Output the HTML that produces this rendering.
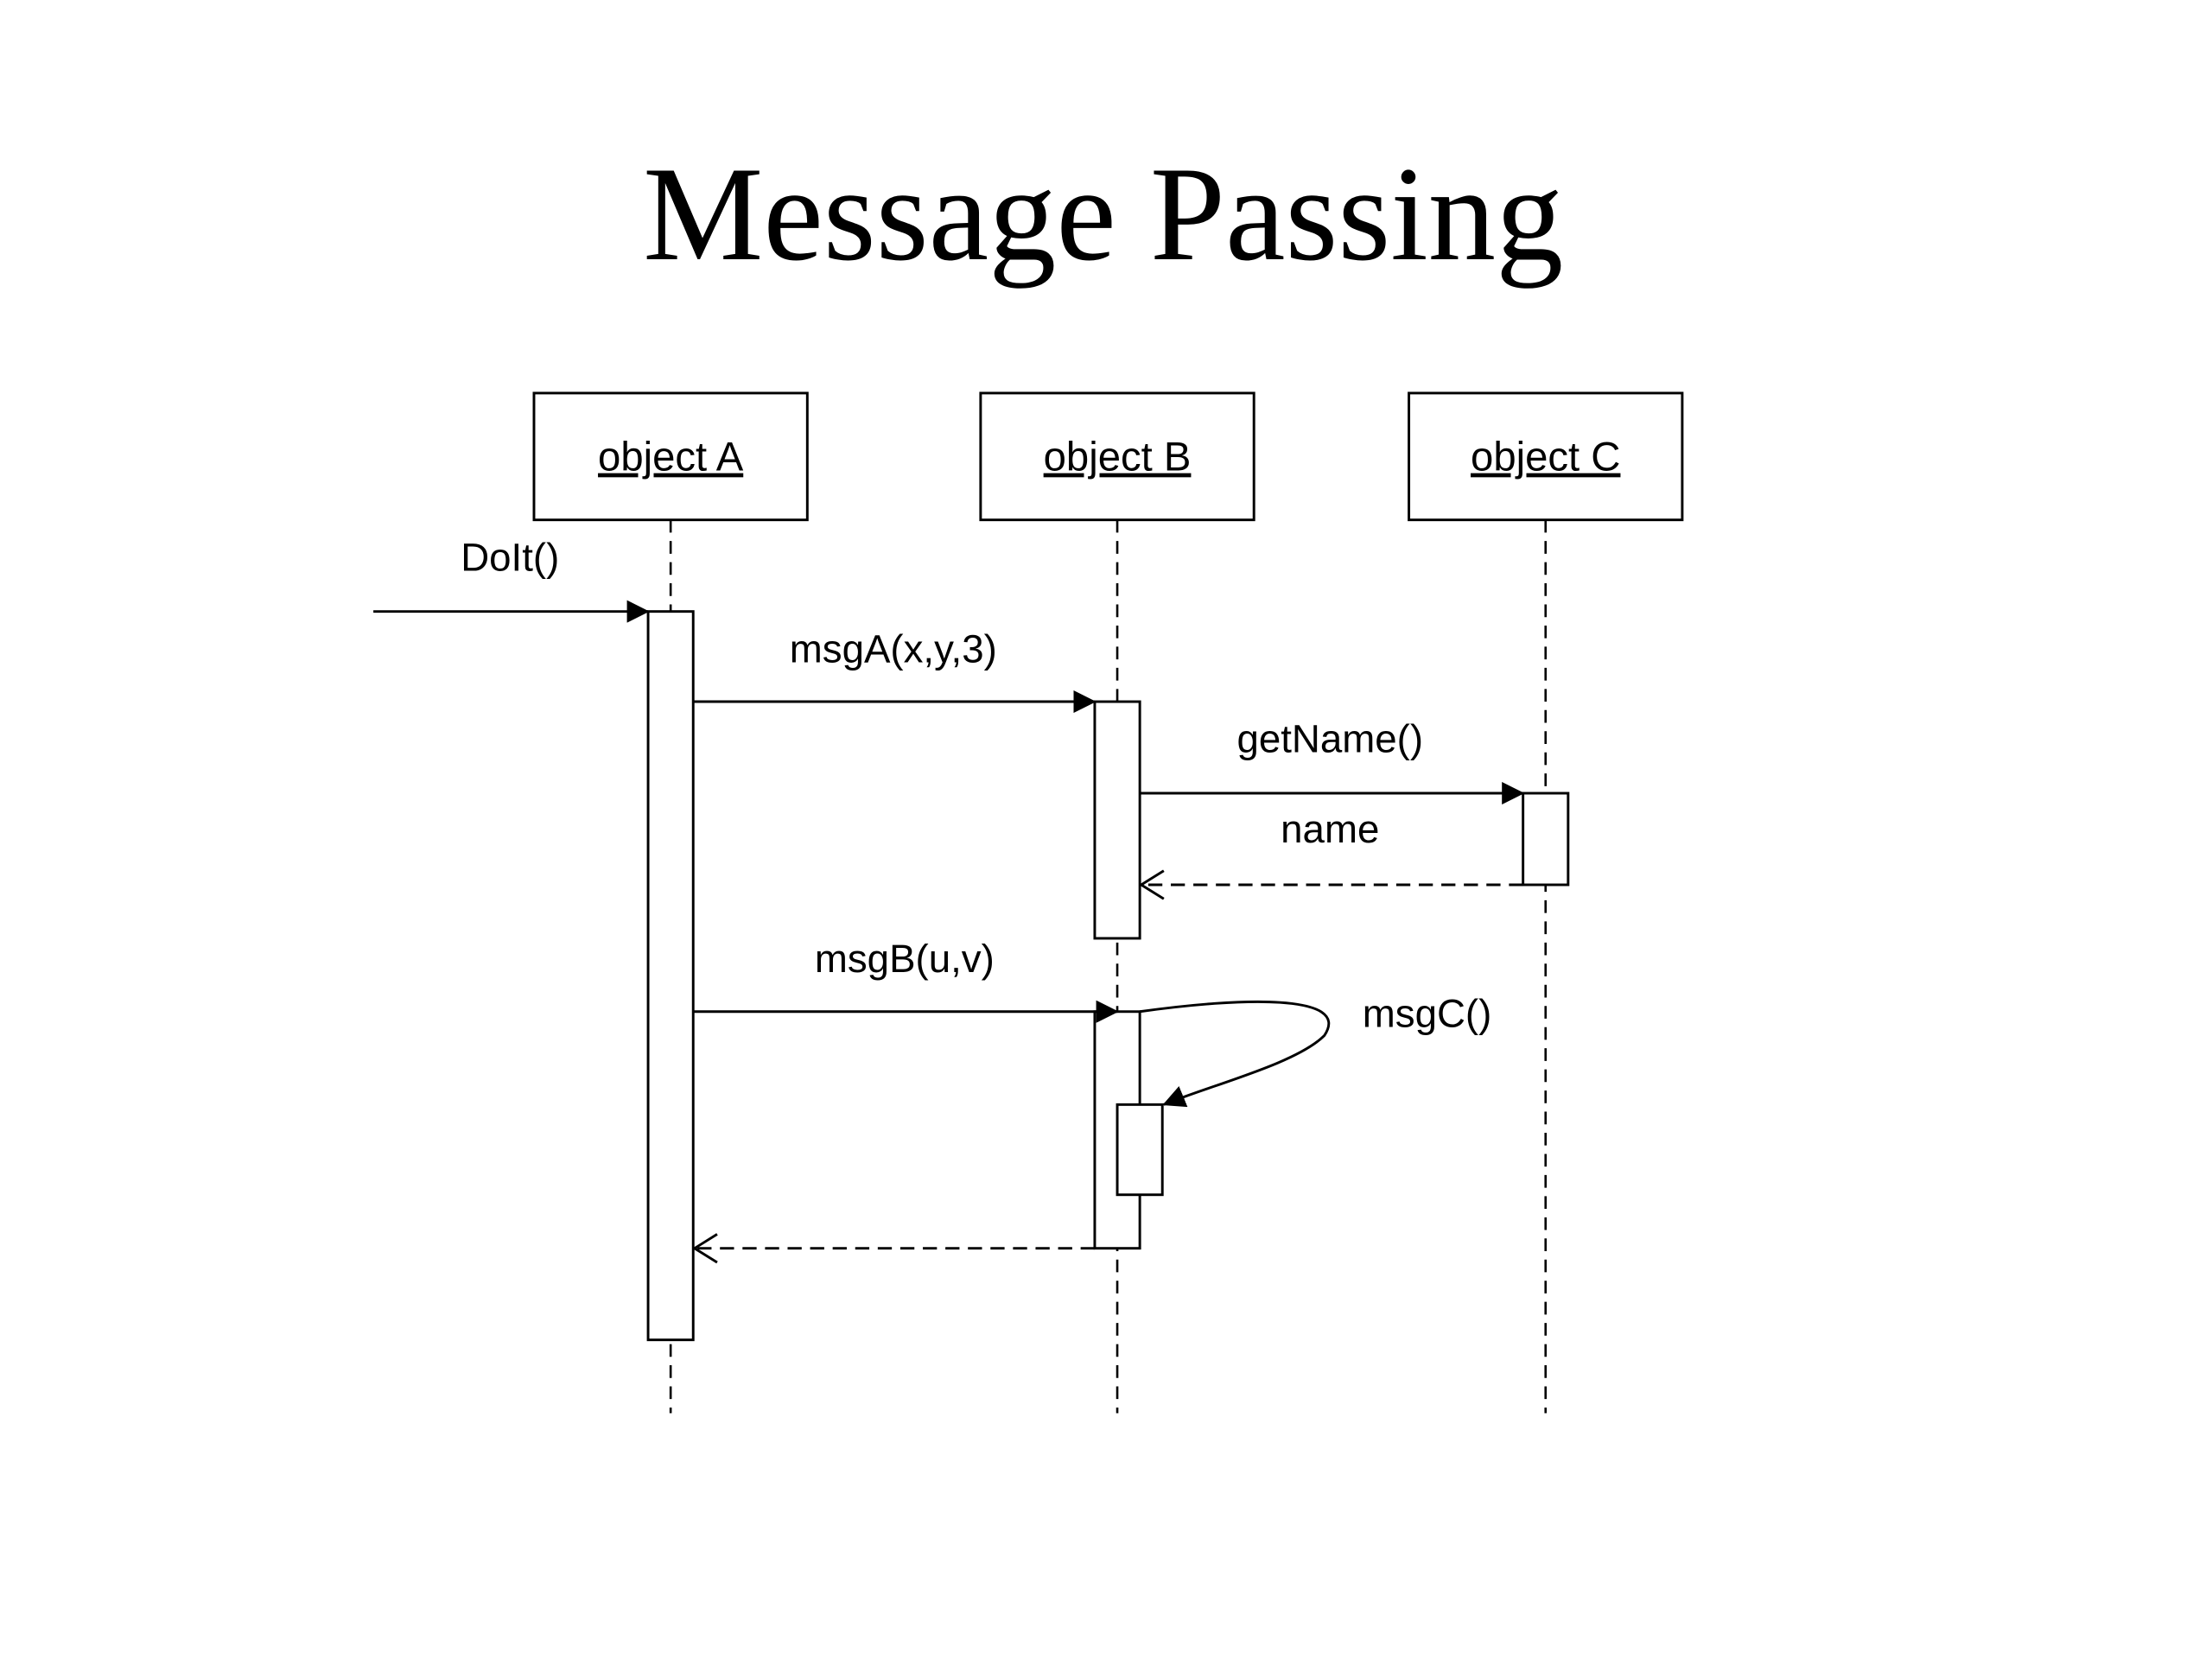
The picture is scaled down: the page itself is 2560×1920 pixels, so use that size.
<!DOCTYPE html>
<html><head><style>html,body{margin:0;padding:0;background:#fff}svg{display:block}</style></head><body>
<svg width="2560" height="1920" viewBox="0 0 1570 1177.5" xmlns="http://www.w3.org/2000/svg">
<defs>
<marker id="f" markerWidth="16" markerHeight="16" refX="15" refY="8" orient="auto" markerUnits="userSpaceOnUse"><path d="M0,0 L16,8 L0,16 Z" fill="#000"/></marker>
</defs>
<text x="783" y="184" font-family="Liberation Serif, serif" font-size="96" text-anchor="middle">Message Passing</text>
<g fill="#fff" stroke="#000" stroke-width="1.8">
<rect x="379" y="279" width="194" height="90"/>
<rect x="696" y="279" width="194" height="90"/>
<rect x="1000" y="279" width="194" height="90"/>
</g>
<g font-family="Liberation Sans, sans-serif" font-size="29" text-anchor="middle" text-decoration="underline">
<text x="476" y="334">object A</text>
<text x="793" y="334">object B</text>
<text x="1097" y="334">object C</text>
</g>
<g stroke="#000" stroke-width="1.6" stroke-dasharray="9,6">
<line x1="476" y1="369" x2="476" y2="1003"/>
<line x1="793" y1="369" x2="793" y2="1003"/>
<line x1="1097" y1="369" x2="1097" y2="1003"/>
</g>
<g fill="#fff" stroke="#000" stroke-width="1.8">
<rect x="460" y="434" width="32" height="517"/>
<rect x="777" y="498" width="32" height="168"/>
<rect x="1081" y="563" width="32" height="65"/>
<rect x="777" y="718" width="32" height="168"/>
<rect x="793" y="784" width="32" height="64"/>
</g>
<g stroke="#000" stroke-width="1.8" fill="none">
<line x1="265" y1="434" x2="460" y2="434" marker-end="url(#f)"/>
<line x1="492" y1="498" x2="777" y2="498" marker-end="url(#f)"/>
<line x1="809" y1="563" x2="1081" y2="563" marker-end="url(#f)"/>
<line x1="492" y1="718" x2="793" y2="718" marker-end="url(#f)"/>
<line x1="1081" y1="628" x2="809" y2="628" stroke-dasharray="10,6"/>
<line x1="777" y1="886" x2="492" y2="886" stroke-dasharray="10,6"/>
<path d="M809,718 C880,708 960,705 940,735 C920,755 860,770 826,784" marker-end="url(#f)"/>
<path d="M826,618 L810,628 L826,638"/>
<path d="M509,876 L493,886 L509,896"/>
</g>
<g font-family="Liberation Sans, sans-serif" font-size="28">
<text x="327" y="405">DoIt()</text>
<text x="634" y="470" text-anchor="middle">msgA(x,y,3)</text>
<text x="944" y="534" text-anchor="middle">getName()</text>
<text x="944" y="598" text-anchor="middle">name</text>
<text x="642" y="690" text-anchor="middle">msgB(u,v)</text>
<text x="967" y="729">msgC()</text>
</g>
</svg>
</body></html>
